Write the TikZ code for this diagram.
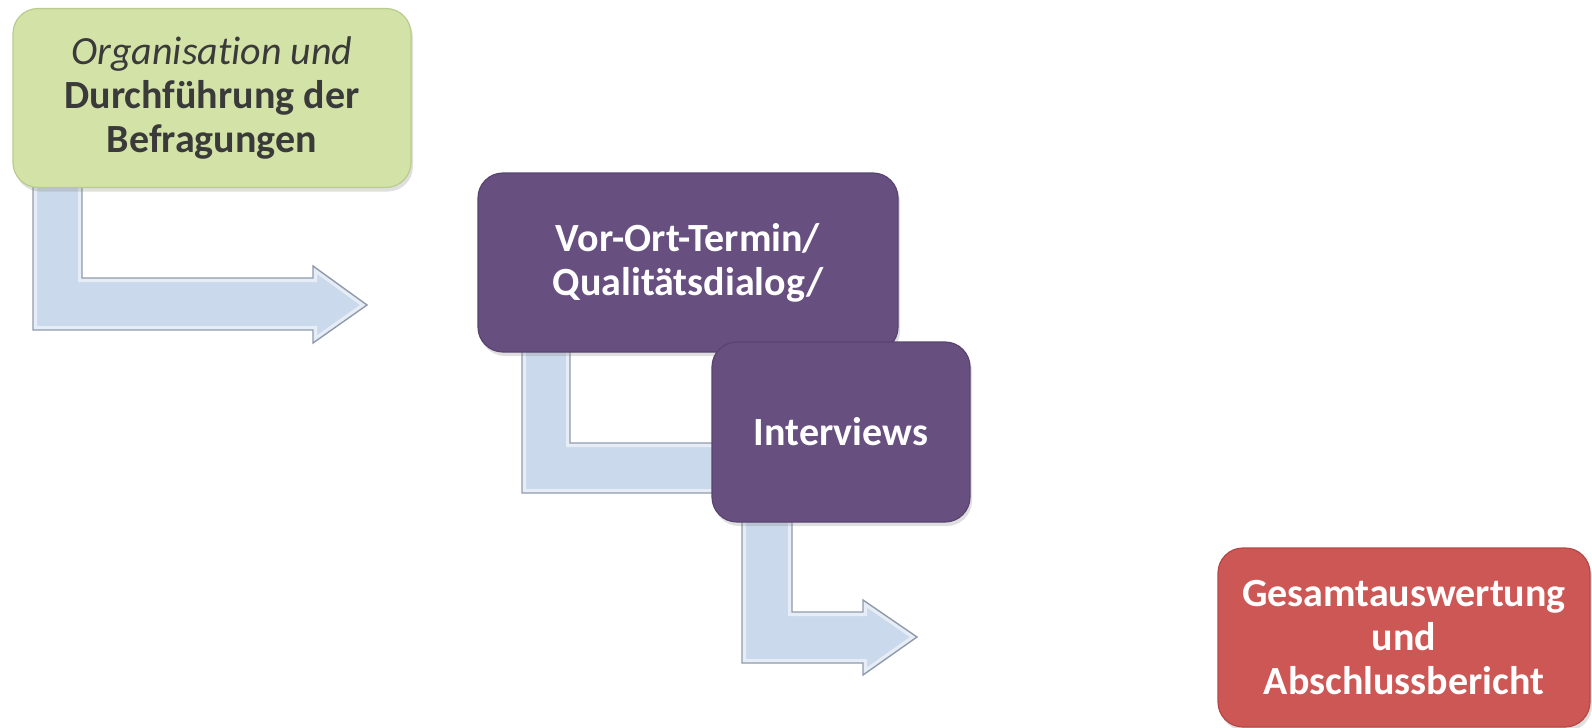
\documentclass[tikz,border=0pt]{standalone}
\usepackage{fontspec}
\setmainfont{Carlito}[Ligatures=NoCommon]
\usetikzlibrary{shadows}
\definecolor{stepgreen}{HTML}{D3E3A7}
\definecolor{stepgreenline}{HTML}{BACB8E}
\definecolor{steppurple}{HTML}{674F80}
\definecolor{steppurpleline}{HTML}{58446E}
\definecolor{stepred}{HTML}{CD5755}
\definecolor{stepredline}{HTML}{B24846}
\definecolor{arrowblue}{HTML}{CBD9EC}
\definecolor{arrowline}{HTML}{8F9BAC}
\definecolor{textgrey}{HTML}{3A3A3A}
\tikzset{
  box/.style = {rectangle, rounded corners=12.5pt, inner sep=0pt, align=center,
                line width=0.6pt,
                font=\bfseries\fontsize{20}{22}\selectfont,
                drop shadow={shadow xshift=1pt, shadow yshift=-2pt, opacity=0.25}},
  greenbox/.style = {box, fill=stepgreen, draw=stepgreenline, text=textgrey},
  purplebox/.style = {box, fill=steppurple, draw=steppurpleline, text=white},
  redbox/.style = {box, fill=stepred, draw=stepredline, text=white},
}
% bent arrow with a light bevel
\newcommand\bevelarrow[1]{%
  \fill[arrowblue] #1;
  \begin{scope}
    \clip #1;
    \draw[white, opacity=0.55, line width=4pt, line join=miter] #1;
  \end{scope}
  \draw[arrowline, line width=0.7pt, line join=miter] #1;
}

\begin{document}
\begin{tikzpicture}[x=0.5pt, y=-0.5pt]
  \useasboundingbox (0,0) rectangle (1592,728);
  % first step
  \bevelarrow{(33,180) -- (82,180) -- (82,278) -- (313,278) -- (313,266)
              -- (367,305) -- (313,343) -- (313,330) -- (33,330) -- cycle}
  \node[greenbox, minimum width=199pt, minimum height=89.5pt] (org) at (212,98)
    {\mdseries\itshape Organisation und\\Durchführung der\\Befragungen};
  % second step
  \bevelarrow{(522,345) -- (570,345) -- (570,443) -- (760,443) -- (760,431)
              -- (814,468) -- (760,505) -- (760,493) -- (522,493) -- cycle}
  \node[purplebox, minimum width=210pt, minimum height=89.5pt] (vorort) at (688,262.5)
    {Vor-Ort-Termin/\\Qualitätsdialog/};
  % third step
  \bevelarrow{(742,515) -- (792,515) -- (792,612) -- (863,612) -- (863,600)
              -- (917,637) -- (863,675) -- (863,663) -- (742,663) -- cycle}
  \node[purplebox, minimum width=129pt, minimum height=90pt] (interviews) at (841,432)
    {Interviews};
  % final step
  \node[redbox, minimum width=186pt, minimum height=89.5pt] (bericht) at (1404,637.5)
    {Gesamtauswertung\\und\\Abschlussbericht};
\end{tikzpicture}
\end{document}
